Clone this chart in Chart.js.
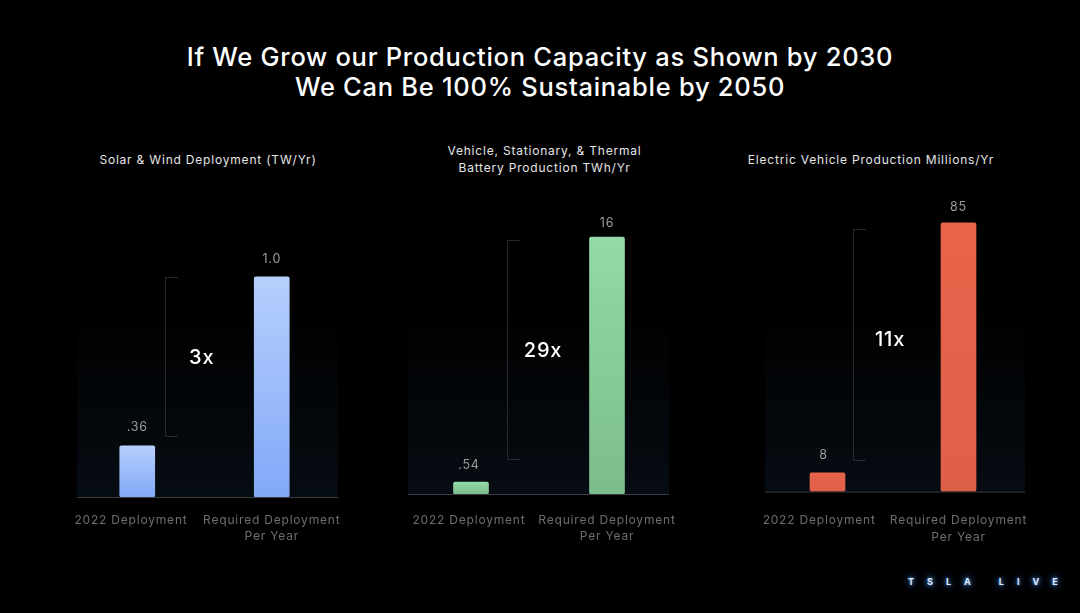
<!DOCTYPE html>
<html>
<head>
<meta charset="utf-8">
<script src="https://cdn.jsdelivr.net/npm/chart.js@4/dist/chart.umd.min.js"></script>
<style>
  html, body { margin: 0; background: #000; }
  body { position: relative; width: 1080px; height: 613px; overflow: hidden; font-family: Inter, sans-serif; }
  canvas { position: absolute; top: 190px; }
  .title { position: absolute; left: 0; width: 1080px; top: 42px; margin: 0; text-align: center; color: #fff;
           font-size: 25.5px; font-weight: 500; line-height: 30px; letter-spacing: 0.72px; }
  .sub { position: absolute; transform: translateX(-50%); white-space: nowrap; text-align: center; color: #e6e6e6;
         font-size: 12px; line-height: 17px; letter-spacing: 0.8px; }
  .logo { position: absolute; left: 908px; top: 576px; color: #dbe9ff; font-size: 9px; font-weight: 700; white-space: pre;
          letter-spacing: 13px; text-shadow: 0 0 3px #6aa4f0, 0 0 7px #3a78cc, 0 0 10px #2d64b0; }
</style>
</head>
<body>
<h1 class="title">If We Grow our Production Capacity as Shown by 2030<br>We Can Be 100% Sustainable by 2050</h1>
<div class="sub" style="left:208px;top:151px">Solar &amp; Wind Deployment (TW/Yr)</div>
<div class="sub" style="left:544.5px;top:142px">Vehicle, Stationary, &amp; Thermal<br>Battery Production TWh/Yr</div>
<div class="sub" style="left:871px;top:151px">Electric Vehicle Production Millions/Yr</div>
<div class="logo">TSLA LIVE</div>
<canvas id="solar-chart"></canvas>
<canvas id="battery-chart"></canvas>
<canvas id="ev-chart"></canvas>
<script>
// Shared categories
const categories = ['2022 Deployment', ['Required Deployment', 'Per Year']];

// Bar heights as drawn in the slide (short bars are not to scale with their printed labels)
const solarBars = [0.232, 1.0];
const batteryBars = [0.75, 16];
const evBars = [5.9, 85];

// Printed values above the bars
const solarLabels = ['.36', '1.0'];
const batteryLabels = ['.54', '16'];
const evLabels = ['8', '85'];

// Bracket ends, in each chart's y units
const solarBracket = [0.277, 1.0];
const batteryBracket = [2.18, 15.81];
const evBracket = [9.97, 83.1];

// Multipliers
const solarMultiple = '3x';
const batteryMultiple = '29x';
const evMultiple = '11x';

const PAD = 20; // room for the wide tick label
const TOP = 190;
const HEIGHT = 360;

// Draws what Chart.js has no element for: panel tint, baseline, bracket, texts above bars
const slidePlugin = {
  id: 'slide',
  beforeDraw(chart) {
    chart.ctx.letterSpacing = '0.8px';
  },
  beforeDatasetsDraw(chart, args, o) {
    const { ctx, chartArea } = chart;
    const left = o.panel[0] - o.canvasLeft;
    const right = o.panel[1] - o.canvasLeft;
    const grad = ctx.createLinearGradient(0, 120, 0, chartArea.bottom);
    grad.addColorStop(0, 'rgba(6,12,19,0)');
    grad.addColorStop(1, 'rgba(6,12,19,1)');
    ctx.save();
    ctx.fillStyle = grad;
    ctx.fillRect(left, 120, right - left, chartArea.bottom - 120);
    ctx.fillStyle = '#3a3d40';
    ctx.fillRect(left, chartArea.bottom, right - left, 1);
    ctx.restore();
  },
  afterDatasetsDraw(chart, args, o) {
    const { ctx, scales } = chart;
    const bars = chart.getDatasetMeta(0).data;
    ctx.save();
    // dotted bracket
    const bx = Math.round(bars[0].x + o.bracketDx) + 0.5;
    const y0 = Math.round(scales.y.getPixelForValue(o.bracket[0])) + 0.5;
    const y1 = Math.round(scales.y.getPixelForValue(o.bracket[1])) + 0.5;
    ctx.strokeStyle = '#4a4d50';
    ctx.lineWidth = 1;
    ctx.setLineDash([1, 1]);
    ctx.beginPath();
    ctx.moveTo(bx + 12, y1);
    ctx.lineTo(bx, y1);
    ctx.lineTo(bx, y0);
    ctx.lineTo(bx + 12, y0);
    ctx.stroke();
    ctx.setLineDash([]);
    // multiplier
    ctx.textAlign = 'center';
    ctx.textBaseline = 'middle';
    ctx.fillStyle = '#fff';
    ctx.font = '500 20px Inter, sans-serif';
    ctx.fillText(o.multiple, bars[0].x + o.multipleDx, scales.y.getPixelForValue(o.multipleY) + 1);
    // printed values
    ctx.fillStyle = '#9c9c9c';
    ctx.font = '12.5px Inter, sans-serif';
    bars.forEach((bar, i) => {
      const dx = i === 0 ? o.labelDx : 0;
      ctx.fillText(o.labels[i], bar.x + dx, bar.y - o.labelGap[i]);
    });
    ctx.restore();
  }
};

function barFill(top, bottom) {
  return (c) => {
    const area = c.chart.chartArea;
    if (!area) return bottom;
    // gradient runs over the bar itself, so the short bar shows the full range as well
    const yTop = c.chart.scales.y.getPixelForValue(c.raw);
    const grad = c.chart.ctx.createLinearGradient(0, yTop, 0, area.bottom);
    grad.addColorStop(0, top);
    grad.addColorStop(1, bottom);
    return grad;
  };
}

function makeChart(id, cfg) {
  const canvas = document.getElementById(id);
  const canvasLeft = cfg.plotLeft - PAD;
  canvas.style.left = canvasLeft + 'px';
  canvas.width = cfg.plotWidth + PAD * 2;
  canvas.height = HEIGHT;
  new Chart(canvas, {
    type: 'bar',
    plugins: [slidePlugin],
    data: {
      labels: categories,
      datasets: [{
        data: cfg.bars,
        backgroundColor: barFill(cfg.colors[0], cfg.colors[1]),
        barThickness: 35,
        borderRadius: 2,
        borderSkipped: false
      }]
    },
    options: {
      responsive: false,
      animation: false,
      layout: { padding: { left: PAD, right: PAD, top: 0, bottom: 0 } },
      plugins: {
        legend: { display: false },
        tooltip: { enabled: false },
        slide: {
          canvasLeft,
          panel: cfg.panel,
          bracket: cfg.bracket,
          bracketDx: cfg.bracketDx,
          multiple: cfg.multiple,
          multipleDx: cfg.multipleDx,
          multipleY: cfg.multipleY,
          labels: cfg.labels,
          labelDx: cfg.labelDx,
          labelGap: cfg.labelGap
        }
      },
      scales: {
        x: {
          grid: { display: false },
          border: { display: false },
          afterFit(scale) { scale.height = TOP + HEIGHT - cfg.baseline; },
          ticks: {
            autoSkip: false,
            maxRotation: 0,
            padding: cfg.tickPadding,
            color: '#6e6e6e',
            font: { family: 'Inter, sans-serif', size: 12, lineHeight: 1.36 },
            // trailing spaces nudge the first label left of its bar, as on the slide
            callback(value, i) {
              return i === 0 ? categories[0] + ' '.repeat(cfg.labelPad) : categories[1];
            }
          }
        },
        y: { display: false, min: 0, max: cfg.yMax }
      }
    }
  });
}

makeChart('solar-chart', {
  bars: solarBars, labels: solarLabels, bracket: solarBracket, multiple: solarMultiple,
  plotLeft: 70, plotWidth: 269, panel: [77, 338], baseline: 497, yMax: 1.395, tickPadding: 7,
  colors: ['#b6cffc', '#82a8f8'], bracketDx: 27.5, multipleDx: 64.5, multipleY: 0.636, labelDx: 0, labelGap: [19, 18], labelPad: 3
});
makeChart('battery-chart', {
  bars: batteryBars, labels: batteryLabels, bracket: batteryBracket, multiple: batteryMultiple,
  plotLeft: 403, plotWidth: 272, panel: [408, 669], baseline: 494, yMax: 18.93, tickPadding: 10,
  colors: ['#92daa6', '#7bbd8b'], bracketDx: 36, multipleDx: 72, multipleY: 8.97, labelDx: -2, labelGap: [17, 14], labelPad: 1
});
makeChart('ev-chart', {
  bars: evBars, labels: evLabels, bracket: evBracket, multiple: evMultiple,
  plotLeft: 762, plotWidth: 262, panel: [765, 1025], baseline: 491.5, yMax: 95.4, tickPadding: 13,
  colors: ['#e8644b', '#de5f48'], bracketDx: 25.5, multipleDx: 62.5, multipleY: 48.3, labelDx: -4, labelGap: [18, 16], labelPad: 4
});
</script>
</body>
</html>
